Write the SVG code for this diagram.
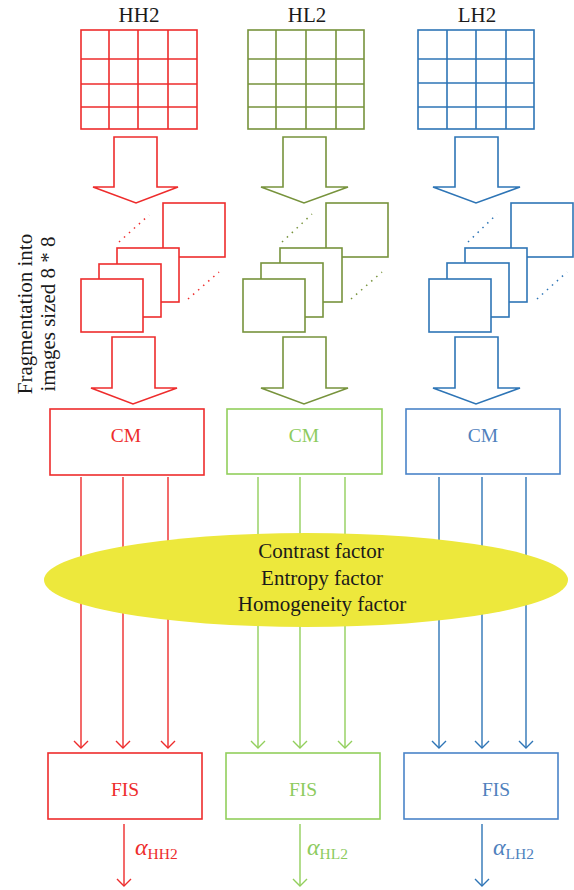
<svg xmlns="http://www.w3.org/2000/svg" width="574" height="890" viewBox="0 0 574 890">
<defs>
<style>
text{font-family:"Liberation Serif","Times New Roman","DejaVu Serif",serif}
.t{font-size:21px;fill:#1a1a1a}
.red{stroke:#EE2C2C}
.dg{stroke:#77933C}
.db{stroke:#2E75B6}
.lg{stroke:#92CF5C}
.lb{stroke:#4A84C8}
.box{fill:#fff;stroke-width:1.6}
.grid{fill:none;stroke-width:1.6}
.dot{fill:none;stroke-width:1.5;stroke-dasharray:1.5 5.2}
.ln{fill:none;stroke-width:1.4}
.lbl{font-size:19.5px;text-anchor:middle;stroke:none}
.al{font-size:24px;font-style:italic;stroke:none}
.sub{font-size:15.5px;font-style:normal}
</style>
<marker id="mr" markerUnits="userSpaceOnUse" viewBox="-9 -9 11 18" refX="0" refY="0" markerWidth="11" markerHeight="18" orient="auto"><path d="M-7,-7 L0,0 L-7,7" fill="none" stroke="#EE2C2C" stroke-width="1.4"/></marker>
<marker id="mg" markerUnits="userSpaceOnUse" viewBox="-9 -9 11 18" refX="0" refY="0" markerWidth="11" markerHeight="18" orient="auto"><path d="M-7,-7 L0,0 L-7,7" fill="none" stroke="#92CF5C" stroke-width="1.4"/></marker>
<marker id="mb" markerUnits="userSpaceOnUse" viewBox="-9 -9 11 18" refX="0" refY="0" markerWidth="11" markerHeight="18" orient="auto"><path d="M-7,-7 L0,0 L-7,7" fill="none" stroke="#2E75B6" stroke-width="1.4"/></marker>
</defs>
<rect width="574" height="890" fill="#fff"/>

<g id="side-label">
<text class="t" text-anchor="middle" transform="translate(32,314) rotate(-90)">Fragmentation into</text>
<text class="t" text-anchor="middle" transform="translate(55,314) rotate(-90)">images sized 8 * 8</text>
</g>

<!-- HH2 column -->
<g id="hh2-grid">
<text class="t" x="139" y="22" text-anchor="middle">HH2</text>
<g class="grid red">
<rect x="81" y="30" width="116" height="99"/>
<path d="M109,30V129M138,30V129M168,30V129M81,59H197M81,84H197M81,107H197"/>
</g>
</g>
<g id="hh2-arrow1"><polygon class="box red" points="114,137 157,137 157,187 178,187 136,203 93,187 114,187"/></g>
<g id="hh2-frames" class="red">
<path class="dot" d="M119,242L149,215M188,299L219,272"/>
<rect class="box" x="163" y="203" width="62" height="54"/>
<rect class="box" x="117" y="248" width="62" height="54"/>
<rect class="box" x="99" y="264" width="62" height="53"/>
<rect class="box" x="81" y="279" width="62" height="53"/>
</g>
<g id="hh2-arrow2"><polygon class="box red" points="112,337 155,337 155,388 177,388 133,404 91,388 112,388"/></g>

<!-- HL2 column -->
<g id="hl2-grid">
<text class="t" x="307" y="22" text-anchor="middle">HL2</text>
<g class="grid dg">
<rect x="248" y="30" width="116" height="99"/>
<path d="M276,30V129M306,30V129M336,30V129M248,59H364M248,84H364M248,107H364"/>
</g>
</g>
<g id="hl2-arrow1"><polygon class="box dg" points="283,137 326,137 326,187 348,187 304,203 261,187 283,187"/></g>
<g id="hl2-frames" class="dg">
<path class="dot" d="M282,242L312,214M351,299L382,272"/>
<rect class="box" x="326" y="203" width="62" height="54"/>
<rect class="box" x="280" y="248" width="62" height="54"/>
<rect class="box" x="261" y="263" width="62" height="54"/>
<rect class="box" x="243" y="279" width="62" height="53"/>
</g>
<g id="hl2-arrow2"><polygon class="box dg" points="283,337 326,337 326,388 348,388 304,404 261,388 283,388"/></g>

<!-- LH2 column -->
<g id="lh2-grid">
<text class="t" x="477" y="22" text-anchor="middle">LH2</text>
<g class="grid db">
<rect x="418" y="30" width="116" height="99"/>
<path d="M447,30V129M476,30V129M506,30V129M418,59H534M418,83H534M418,107H534"/>
</g>
</g>
<g id="lh2-arrow1"><polygon class="box db" points="455,137 498,137 498,187 520,187 476,203 433,187 455,187"/></g>
<g id="lh2-frames" class="db">
<path class="dot" d="M468,242L497,214M537,299L567,272"/>
<rect class="box" x="511" y="203" width="62" height="54"/>
<rect class="box" x="465" y="248" width="62" height="54"/>
<rect class="box" x="447" y="263" width="62" height="54"/>
<rect class="box" x="429" y="279" width="62" height="53"/>
</g>
<g id="lh2-arrow2"><polygon class="box db" points="455,337 498,337 498,388 520,388 476,404 433,388 455,388"/></g>

<!-- connectors -->
<g id="connectors">
<g class="ln red" marker-end="url(#mr)">
<path d="M81,477V748"/><path d="M123,477V748"/><path d="M168,477V748"/><path d="M124,824V886"/>
</g>
<g class="ln lg" marker-end="url(#mg)">
<path d="M258,477V748"/><path d="M300,477V748"/><path d="M345,477V748"/><path d="M300,824V886"/>
</g>
<g class="ln db" marker-end="url(#mb)">
<path d="M439,477V748"/><path d="M482,477V748"/><path d="M526,477V748"/><path d="M482,824V886"/>
</g>
</g>

<!-- CM boxes -->
<g id="cm-hh2"><rect class="box red" x="50" y="409" width="154" height="66"/><text class="lbl" x="126" y="442" fill="#EE2C2C">CM</text></g>
<g id="cm-hl2"><rect class="box lg" x="227" y="409" width="155" height="65"/><text class="lbl" x="304" y="442" fill="#8DCB5E">CM</text></g>
<g id="cm-lh2"><rect class="box lb" x="406" y="409" width="154" height="65"/><text class="lbl" x="483" y="442" fill="#4F81BD">CM</text></g>

<!-- ellipse -->
<g id="factors">
<ellipse cx="306" cy="580" rx="262" ry="47" fill="#EDE83C"/>
<text class="t" x="321" y="558" text-anchor="middle">Contrast factor</text>
<text class="t" x="322" y="585" text-anchor="middle">Entropy factor</text>
<text class="t" x="322" y="611" text-anchor="middle">Homogeneity factor</text>
</g>

<!-- FIS boxes -->
<g id="fis-hh2"><rect class="box red" x="48" y="753" width="154" height="66"/><text class="lbl" x="125" y="796" fill="#EE2C2C">FIS</text></g>
<g id="fis-hl2"><rect class="box lg" x="226" y="753" width="154" height="66"/><text class="lbl" x="303" y="796" fill="#8DCB5E">FIS</text></g>
<g id="fis-lh2"><rect class="box lb" x="404" y="753" width="154" height="66"/><text class="lbl" x="496" y="796" fill="#4F81BD">FIS</text></g>

<!-- output labels -->
<g id="out-hh2"><text class="al" x="135" y="855" fill="#EE2C2C">α<tspan class="sub" dy="4">HH2</tspan></text></g>
<g id="out-hl2"><text class="al" x="307" y="855" fill="#8DCB5E">α<tspan class="sub" dy="4">HL2</tspan></text></g>
<g id="out-lh2"><text class="al" x="493" y="855" fill="#4F81BD">α<tspan class="sub" dy="4">LH2</tspan></text></g>
</svg>
